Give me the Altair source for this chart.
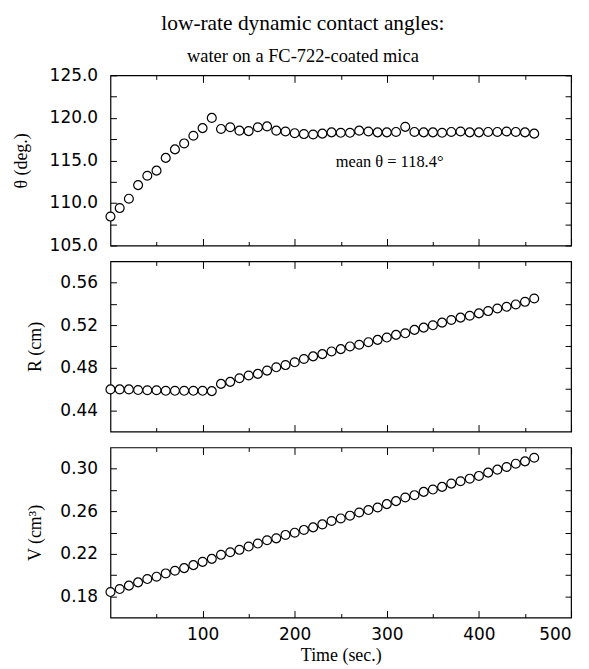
import altair as alt
import pandas as pd

# ---- data ----
time_s = list(range(0, 470, 10))  # 0..460 s, 47 points

theta_deg = [108.4, 109.4, 110.5, 112.1, 113.2, 113.8, 115.3, 116.3, 117.0, 117.9,
             118.8, 120.0, 118.7, 118.9, 118.5, 118.45, 118.9, 119.0, 118.5, 118.4,
             118.2, 118.1, 118.05, 118.15, 118.3, 118.25, 118.25, 118.5, 118.4, 118.3,
             118.3, 118.35, 118.95, 118.35, 118.3, 118.3, 118.25, 118.35, 118.4, 118.3,
             118.3, 118.35, 118.35, 118.4, 118.35, 118.3, 118.15]

radius_cm = [0.4596, 0.4596, 0.4596, 0.4590, 0.4588, 0.4588, 0.4583, 0.4583, 0.4583, 0.4583,
             0.4583, 0.4580, 0.4648, 0.4667, 0.4701, 0.4727, 0.4742, 0.4773, 0.4804, 0.4825,
             0.4851, 0.4882, 0.4907, 0.4928, 0.4953, 0.4975, 0.5000, 0.5016, 0.5040, 0.5062,
             0.5084, 0.5109, 0.5124, 0.5156, 0.5177, 0.5199, 0.5224, 0.5249, 0.5271, 0.5289,
             0.5311, 0.5333, 0.5357, 0.5373, 0.5395, 0.5420, 0.5451]

volume_cm3 = [0.1840, 0.1868, 0.1900, 0.1931, 0.1962, 0.1984, 0.2015, 0.2040, 0.2065, 0.2093,
              0.2124, 0.2152, 0.2190, 0.2214, 0.2237, 0.2268, 0.2296, 0.2327, 0.2345, 0.2377,
              0.2398, 0.2424, 0.2448, 0.2476, 0.2508, 0.2532, 0.2558, 0.2588, 0.2611, 0.2635,
              0.2667, 0.2695, 0.2729, 0.2751, 0.2782, 0.2804, 0.2829, 0.2860, 0.2882, 0.2906,
              0.2932, 0.2963, 0.2991, 0.3016, 0.3047, 0.3069, 0.3103]

x_major = [100, 200, 300, 400, 500]
x_minor = [50, 150, 250, 350, 450]

theta_major = [105, 110, 115, 120, 125]
theta_minor = [107.5, 112.5, 117.5, 122.5]
r_major = [0.44, 0.48, 0.52, 0.56]
r_minor = [0.46, 0.50, 0.54]
v_major = [0.18, 0.22, 0.26, 0.30]
v_minor = [0.20, 0.24, 0.28]

note_t = [303]
note_theta = [114.8]
note_text = ["mean θ = 118.4°"]

df = pd.DataFrame({"t": time_s, "theta": theta_deg, "R": radius_cm, "V": volume_cm3})
note_df = pd.DataFrame({"t": note_t, "theta": note_theta, "label": note_text})

W, H = 463, 171
XT_MAJ, XT_MIN, YT = 7, 4, 6


def panel(field, y_domain, y_major, y_minor, y_title, y_fmt, title_pad, bottom=False, note=False):
    xs = alt.Scale(domain=[0, 500], nice=False, zero=False)
    ys = alt.Scale(domain=y_domain, nice=False, zero=False)
    base = alt.Chart(df)
    tick_kw = dict(domain=False, grid=False, tickColor="black", tickWidth=1,
                   labelFont="DejaVu Sans", labelFontSize=17, labelColor="black",
                   titleFont="Liberation Serif", titleFontSize=18, titleFontWeight="normal",
                   titleColor="black")

    xb_major = alt.Axis(orient="bottom", values=x_major, tickSize=XT_MAJ, offset=-XT_MAJ,
                        labels=bottom, labelPadding=9, format="d",
                        title="Time (sec.)" if bottom else None, titlePadding=4, **tick_kw)
    xt_major = alt.Axis(orient="top", values=x_major, tickSize=XT_MAJ, offset=-XT_MAJ,
                        labels=False, title=None, **tick_kw)
    xb_minor = alt.Axis(orient="bottom", values=x_minor, tickSize=XT_MIN, offset=-XT_MIN,
                        labels=False, title=None, **tick_kw)
    xt_minor = alt.Axis(orient="top", values=x_minor, tickSize=XT_MIN, offset=-XT_MIN,
                        labels=False, title=None, **tick_kw)

    yl_major = alt.Axis(orient="left", values=y_major, tickSize=YT, offset=-YT, format=y_fmt,
                        labelPadding=13, title=y_title, titlePadding=title_pad, **tick_kw)
    yr_major = alt.Axis(orient="right", values=y_major, tickSize=YT, offset=-YT,
                        labels=False, title=None, **tick_kw)
    yl_minor = alt.Axis(orient="left", values=y_minor, tickSize=YT, offset=-YT,
                        labels=False, title=None, **tick_kw)
    yr_minor = alt.Axis(orient="right", values=y_minor, tickSize=YT, offset=-YT,
                        labels=False, title=None, **tick_kw)

    def enc(ch, xa, ya):
        return ch.encode(x=alt.X("t:Q", scale=xs, axis=xa),
                         y=alt.Y(f"{field}:Q", scale=ys, axis=ya))

    points = enc(base.mark_point(shape="circle", filled=True, fill="white", stroke="black",
                                 strokeWidth=1.2, size=80, opacity=1), xb_major, yl_major)
    g2 = enc(base.mark_point(opacity=0), xt_major, yr_major)
    g3 = enc(base.mark_point(opacity=0), xb_minor, yl_minor)
    g4 = enc(base.mark_point(opacity=0), xt_minor, yr_minor)
    layers = [g2, g3, g4, points]
    if note:
        txt = alt.Chart(note_df).mark_text(font="Liberation Serif", fontSize=16.5,
                                           color="black", align="center", baseline="middle").encode(
            x=alt.X("t:Q", scale=xs, axis=None),
            y=alt.Y("theta:Q", scale=ys, axis=None),
            text="label:N")
        layers.append(txt)
    return alt.layer(*layers).resolve_axis(x="independent", y="independent").properties(
        width=W, height=H)


p1 = panel("theta", [105, 125], theta_major, theta_minor, "θ (deg.)", ".1f", 19, note=True)
p2 = panel("R", [0.42, 0.58], r_major, r_minor, "R (cm)", ".2f", 15)
p3 = panel("V", [0.16, 0.32], v_major, v_minor, "V (cm³)", ".2f", 15, bottom=True)

chart = alt.vconcat(p1, p2, p3, spacing=16, bounds="flush").properties(
    title=alt.TitleParams(
        text="low-rate dynamic contact angles:",
        subtitle="water on a FC-722-coated mica",
        font="Liberation Serif", fontSize=21.5, fontWeight="normal", color="black",
        subtitleFont="Liberation Serif", subtitleFontSize=18.5, subtitleColor="black",
        subtitlePadding=13, anchor="middle", offset=0, dx=11),
    padding={"left": 3, "top": 3, "right": 8, "bottom": 4},
    background="white",
).configure_view(
    stroke="black", strokeWidth=1.2
)

chart.save("out.html", embed_options={"renderer": "svg", "actions": False})
